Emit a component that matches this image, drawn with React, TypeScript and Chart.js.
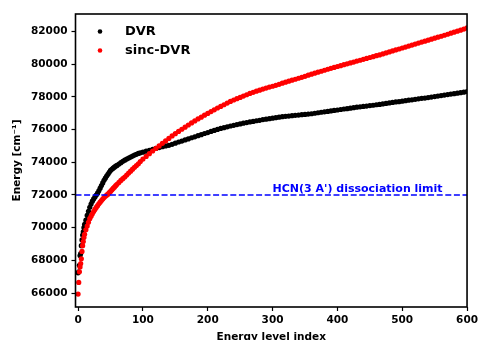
import React, { useEffect, useRef } from 'react';
import { Chart, registerables } from 'chart.js';

Chart.register(...registerables);

// ---- data ----
const dvrIndex = [
  0, 1, 2, 3, 4, 5, 6, 7, 8, 9, 10, 12, 14, 16, 18, 20, 22, 24, 26, 28, 30, 32, 34, 36, 38, 40,
  42, 44, 46, 48, 50, 52, 54, 56, 58, 60, 63, 66, 69, 72, 75, 78, 81, 84, 87, 90, 93, 96,
  100, 105, 110, 115, 120, 125, 130, 135, 140, 145, 150, 155, 160, 165, 170, 175, 180, 185, 190, 195,
  200, 205, 210, 215, 220, 225, 230, 235, 240, 245, 250, 255, 260, 265, 270, 275, 280, 285, 290, 295,
  300, 305, 310, 315, 320, 325, 330, 335, 340, 345, 350, 355, 360, 365, 370, 375, 380, 385, 390, 395,
  400, 405, 410, 415, 420, 425, 430, 435, 440, 445, 450, 455, 460, 465, 470, 475, 480, 485, 490, 495,
  500, 505, 510, 515, 520, 525, 530, 535, 540, 545, 550, 555, 560, 565, 570, 575, 580, 585, 590, 595, 600,
];
const dvrEnergy = [
  67240, 67300, 67700, 68300, 68420, 68900, 69250, 69550, 69750, 70000, 70200, 70460, 70750, 71000, 71250, 71450, 71620, 71760, 71880, 72000, 72110, 72260, 72420, 72580, 72740, 72900,
  73030, 73160, 73270, 73390, 73500, 73570, 73640, 73700, 73760, 73810, 73890, 73980, 74060, 74130, 74200, 74260, 74320, 74380, 74440, 74490, 74540, 74580,
  74620, 74680, 74730, 74790, 74850, 74900, 74950, 75000, 75040, 75100, 75170, 75240, 75300, 75370, 75430, 75500, 75560, 75630, 75690, 75760,
  75820, 75890, 75950, 76010, 76070, 76120, 76170, 76220, 76260, 76310, 76350, 76390, 76430, 76470, 76500, 76540, 76570, 76610, 76640, 76670,
  76700, 76730, 76760, 76790, 76810, 76830, 76850, 76870, 76890, 76910, 76930, 76950, 76970, 77000, 77030, 77060, 77090, 77110, 77140, 77170,
  77200, 77230, 77260, 77280, 77310, 77340, 77370, 77390, 77420, 77440, 77470, 77490, 77520, 77540, 77570, 77600, 77630, 77660, 77690, 77710,
  77740, 77770, 77800, 77820, 77850, 77880, 77910, 77930, 77960, 77990, 78020, 78050, 78080, 78110, 78140, 78170, 78200, 78230, 78260, 78290, 78330,
];

const sincIndex = [
  0, 1, 2, 3, 4, 5, 6, 7, 8, 9, 10, 12, 14, 16, 18, 20, 22, 24, 26, 28, 30, 32, 34, 36, 38, 40,
  42, 44, 46, 48, 50, 52, 54, 56, 58, 60, 63, 66, 69, 72, 75, 78, 81, 84, 87, 90, 93, 96,
  100, 105, 110, 115, 120, 125, 130, 135, 140, 145, 150, 155, 160, 165, 170, 175, 180, 185, 190, 195,
  200, 205, 210, 215, 220, 225, 230, 235, 240, 245, 250, 255, 260, 265, 270, 275, 280, 285, 290, 295,
  300, 305, 310, 315, 320, 325, 330, 335, 340, 345, 350, 355, 360, 365, 370, 375, 380, 385, 390, 395,
  400, 405, 410, 415, 420, 425, 430, 435, 440, 445, 450, 455, 460, 465, 470, 475, 480, 485, 490, 495,
  500, 505, 510, 515, 520, 525, 530, 535, 540, 545, 550, 555, 560, 565, 570, 575, 580, 585, 590, 595, 600,
];
const sincEnergy = [
  65940, 66650, 67300, 67600, 67810, 68100, 68550, 68900, 69150, 69400, 69600, 69870, 70100, 70330, 70550, 70700, 70850, 70990, 71120, 71240, 71350, 71460, 71560, 71660, 71750, 71840,
  71920, 71990, 72050, 72140, 72220, 72310, 72400, 72480, 72570, 72650, 72770, 72890, 73000, 73100, 73220, 73340, 73460, 73580, 73690, 73800, 73910, 74050,
  74200, 74360, 74530, 74690, 74850, 75000, 75160, 75310, 75460, 75610, 75750, 75890, 76020, 76150, 76280, 76410, 76530, 76650, 76760, 76880,
  76990, 77100, 77210, 77320, 77420, 77520, 77620, 77720, 77810, 77890, 77970, 78050, 78130, 78210, 78280, 78350, 78410, 78480, 78540, 78600,
  78650, 78710, 78770, 78840, 78900, 78960, 79020, 79080, 79140, 79200, 79260, 79330, 79390, 79450, 79510, 79570, 79630, 79690, 79750, 79800,
  79860, 79910, 79970, 80020, 80080, 80130, 80190, 80240, 80300, 80350, 80410, 80460, 80520, 80570, 80630, 80690, 80750, 80810, 80870, 80930,
  80990, 81050, 81110, 81170, 81230, 81290, 81350, 81410, 81470, 81530, 81590, 81650, 81710, 81770, 81830, 81900, 81960, 82020, 82080, 82150, 82220,
];

const seriesLabels = ['DVR', 'sinc-DVR'];
const xTicks = [0, 100, 200, 300, 400, 500, 600];
const yTicks = [66000, 68000, 70000, 72000, 74000, 76000, 78000, 80000, 82000];
const xRange = [-4, 600];
const yRange = [65150, 83070];
const limitEnergy = 72000;
const limitLabel = "HCN(3 A') dissociation limit";
const limitLabelX = 300;
const xTitle = 'Energy level index';
const yTitle = 'Energy [cm\u207B\u00B9]';

const FONT = '"DejaVu Sans", sans-serif';

const overlayPlugin = {
  id: 'overlayPlugin',
  afterDatasetsDraw(chart: any) {
    const { ctx, chartArea: a, scales } = chart;
    ctx.save();
    // frame
    ctx.strokeStyle = '#000';
    ctx.lineWidth = 1.6;
    ctx.strokeRect(a.left, a.top, a.right - a.left, a.bottom - a.top);
    // annotation
    ctx.fillStyle = '#0000ff';
    ctx.font = `bold 11px ${FONT}`;
    ctx.textAlign = 'left';
    ctx.textBaseline = 'alphabetic';
    ctx.fillText(limitLabel, scales.x.getPixelForValue(limitLabelX), scales.y.getPixelForValue(limitEnergy) - 3.3);
    // legend
    const colors = ['#000000', '#ff0000'];
    ctx.font = `bold 13px ${FONT}`;
    ctx.textBaseline = 'middle';
    seriesLabels.forEach((lab, i) => {
      const y = a.top + 17.5 + i * 19;
      ctx.fillStyle = colors[i];
      ctx.beginPath();
      ctx.arc(a.left + 24.5, y, 2.3, 0, Math.PI * 2);
      ctx.fill();
      ctx.fillStyle = '#000';
      ctx.fillText(lab, a.left + 49.5, y + 0.5);
    });
    ctx.restore();
  },
};

export default function App() {
  const ref = useRef<HTMLCanvasElement | null>(null);
  useEffect(() => {
    if (!ref.current) return;
    const tickFont = { family: FONT, size: 10.5, weight: 'bold' as const };
    const chart = new Chart(ref.current, {
      type: 'scatter',
      data: {
        datasets: [
          {
            label: 'limit',
            data: [
              { x: xRange[0], y: limitEnergy },
              { x: xRange[1], y: limitEnergy },
            ],
            showLine: true,
            borderColor: '#0000ff',
            borderWidth: 1.6,
            borderDash: [6, 2.6],
            pointRadius: 0,
            order: 0,
          },
          {
            label: seriesLabels[1],
            data: sincIndex.map((x, i) => ({ x, y: sincEnergy[i] })),
            backgroundColor: '#ff0000',
            borderWidth: 0,
            pointRadius: 2.6,
            order: 1,
          },
          {
            label: seriesLabels[0],
            data: dvrIndex.map((x, i) => ({ x, y: dvrEnergy[i] })),
            backgroundColor: '#000000',
            borderWidth: 0,
            pointRadius: 2.6,
            order: 2,
          },
        ],
      },
      options: {
        animation: false,
        responsive: false,
        devicePixelRatio: 1,
        layout: { padding: { left: 0, top: 14, right: 12, bottom: 0 } },
        plugins: { legend: { display: false }, tooltip: { enabled: false } },
        scales: {
          x: {
            type: 'linear',
            min: xRange[0],
            max: xRange[1],
            afterBuildTicks: (s: any) => {
              s.ticks = xTicks.map((v) => ({ value: v }));
            },
            afterFit: (s: any) => {
              s.height = 33;
            },
            ticks: {
              color: '#000',
              font: tickFont,
              padding: 3,
              maxRotation: 0,
              autoSkip: false,
              callback: (v: any) => String(v),
            },
            grid: { display: true, drawOnChartArea: false, drawTicks: true, tickLength: 4, tickWidth: 1.2, tickColor: '#000' },
            border: { display: false },
            title: {
              display: true,
              text: xTitle,
              color: '#000',
              font: { family: FONT, size: 10.5, weight: 'bold' },
              padding: { top: 0, bottom: -4 },
            },
          },
          y: {
            type: 'linear',
            min: yRange[0],
            max: yRange[1],
            afterBuildTicks: (s: any) => {
              s.ticks = yTicks.map((v) => ({ value: v }));
            },
            afterFit: (s: any) => {
              s.width = 75.5;
            },
            ticks: {
              color: '#000',
              font: tickFont,
              padding: 4,
              autoSkip: false,
              callback: (v: any) => String(v),
            },
            grid: { display: true, drawOnChartArea: false, drawTicks: true, tickLength: 4, tickWidth: 1.2, tickColor: '#000' },
            border: { display: false },
            title: {
              display: true,
              text: yTitle,
              color: '#000',
              font: { family: FONT, size: 10.5, weight: 'bold' },
              padding: { top: 10.5, bottom: 0 },
            },
          },
        },
      },
      plugins: [overlayPlugin],
    });
    return () => chart.destroy();
  }, []);

  return (
    <div style={{ position: 'absolute', left: 0, top: 0, width: 481, height: 340, background: '#fff' }}>
      <canvas ref={ref} width={481} height={340} style={{ display: 'block', width: 481, height: 340 }} />
    </div>
  );
}
